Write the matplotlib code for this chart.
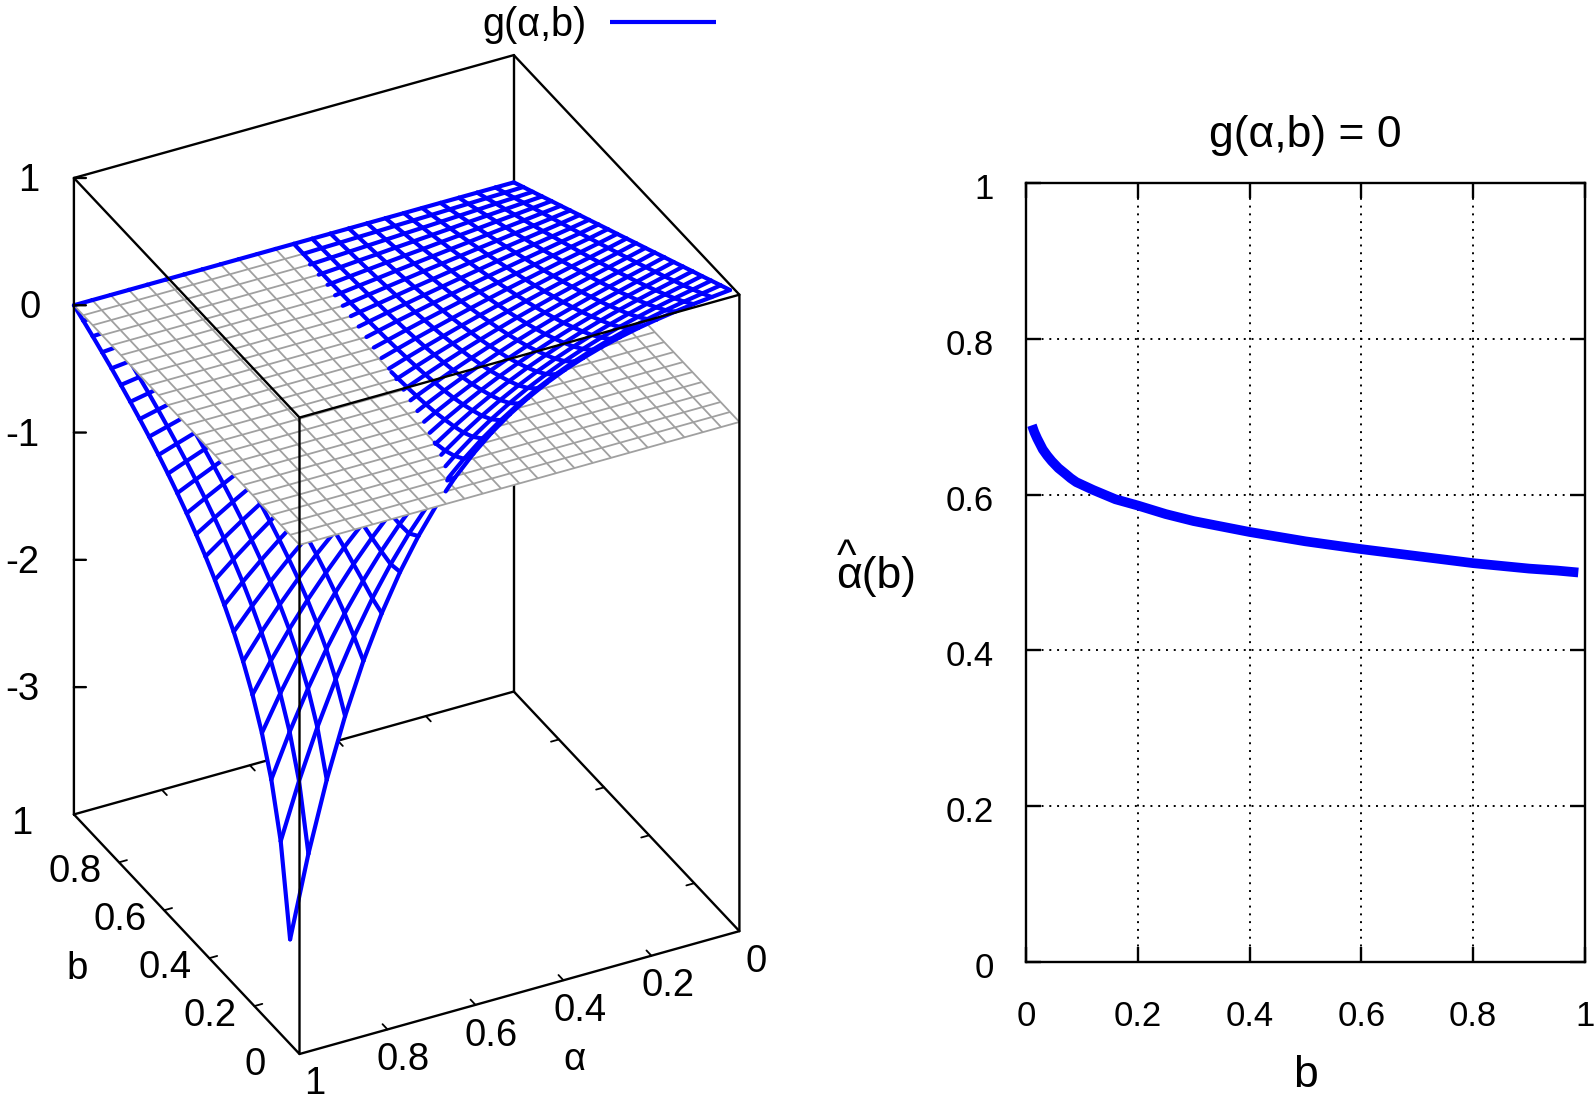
import matplotlib
matplotlib.use('Agg')
import matplotlib.pyplot as plt
from matplotlib.lines import Line2D
from matplotlib.transforms import ScaledTranslation
from mpl_toolkits.mplot3d import proj3d
from mpl_toolkits.mplot3d.art3d import Line3DCollection, Poly3DCollection
import numpy as np

# g(alpha,b) estimated off the wire mesh; rows are b, columns are alpha
alpha_grid = [0.00000,0.04167,0.08333,0.12500,0.16667,0.20833,0.25000,0.29167,0.33333,0.37500,0.41667,0.45833,0.50000,
              0.54167,0.58333,0.62500,0.66667,0.70833,0.75000,0.79167,0.83333,0.87500,0.91667,0.95833,1.00000]
b_grid = [0.04167,0.08333,0.12500,0.16667,0.20833,0.25000,0.29167,0.33333,0.37500,0.41667,0.45833,0.50000,
          0.54167,0.58333,0.62500,0.66667,0.70833,0.75000,0.79167,0.83333,0.87500,0.91667,0.95833,1.00000]
g_table = [
[0.958,0.943,0.928,0.909,0.887,0.861,0.829,0.792,0.747,0.694,0.630,0.555,0.466,0.361,0.236,0.089,-0.085,-0.291,-0.532,-0.817,-1.151,-1.544,-2.004,-2.545,-3.178],
[0.917,0.893,0.869,0.842,0.812,0.777,0.737,0.691,0.639,0.579,0.509,0.430,0.339,0.236,0.117,-0.018,-0.173,-0.349,-0.550,-0.778,-1.038,-1.334,-1.670,-2.052,-2.485],
[0.875,0.846,0.817,0.786,0.751,0.713,0.669,0.620,0.565,0.503,0.434,0.356,0.269,0.171,0.061,-0.062,-0.200,-0.354,-0.527,-0.720,-0.935,-1.176,-1.445,-1.745,-2.079],
[0.833,0.800,0.769,0.735,0.697,0.656,0.611,0.560,0.505,0.444,0.376,0.301,0.218,0.126,0.024,-0.088,-0.212,-0.349,-0.500,-0.666,-0.850,-1.052,-1.275,-1.521,-1.792],
[0.792,0.757,0.723,0.687,0.649,0.607,0.561,0.511,0.456,0.397,0.331,0.260,0.182,0.096,0.002,-0.100,-0.212,-0.334,-0.468,-0.613,-0.773,-0.946,-1.136,-1.343,-1.569],
[0.750,0.713,0.678,0.642,0.602,0.560,0.515,0.465,0.412,0.354,0.292,0.224,0.150,0.071,-0.016,-0.109,-0.210,-0.320,-0.439,-0.567,-0.706,-0.857,-1.020,-1.196,-1.386],
[0.708,0.671,0.635,0.597,0.558,0.516,0.471,0.423,0.371,0.315,0.256,0.192,0.123,0.049,-0.031,-0.116,-0.208,-0.306,-0.412,-0.526,-0.648,-0.779,-0.919,-1.070,-1.232],
[0.667,0.629,0.593,0.556,0.517,0.475,0.432,0.385,0.336,0.283,0.226,0.166,0.102,0.034,-0.039,-0.117,-0.200,-0.289,-0.383,-0.484,-0.592,-0.707,-0.829,-0.959,-1.099],
[0.625,0.587,0.552,0.515,0.477,0.437,0.395,0.350,0.303,0.253,0.200,0.144,0.085,0.022,-0.045,-0.116,-0.191,-0.271,-0.355,-0.445,-0.540,-0.641,-0.748,-0.861,-0.981],
[0.583,0.547,0.512,0.476,0.439,0.401,0.360,0.318,0.273,0.226,0.177,0.125,0.070,0.012,-0.049,-0.113,-0.181,-0.253,-0.328,-0.408,-0.492,-0.580,-0.673,-0.772,-0.875],
[0.542,0.506,0.472,0.438,0.403,0.366,0.328,0.287,0.246,0.202,0.156,0.108,0.057,0.004,-0.051,-0.109,-0.170,-0.234,-0.302,-0.372,-0.446,-0.524,-0.605,-0.691,-0.780],
[0.500,0.466,0.433,0.401,0.367,0.332,0.296,0.259,0.220,0.179,0.136,0.092,0.046,-0.002,-0.052,-0.105,-0.159,-0.216,-0.276,-0.338,-0.403,-0.471,-0.542,-0.616,-0.693],
[0.458,0.426,0.395,0.365,0.333,0.300,0.267,0.232,0.196,0.158,0.119,0.079,0.037,-0.006,-0.051,-0.098,-0.147,-0.198,-0.250,-0.305,-0.362,-0.421,-0.483,-0.547,-0.613],
[0.417,0.386,0.358,0.329,0.299,0.269,0.238,0.206,0.173,0.139,0.104,0.067,0.029,-0.009,-0.050,-0.091,-0.135,-0.179,-0.225,-0.273,-0.323,-0.374,-0.427,-0.482,-0.539],
[0.375,0.347,0.321,0.294,0.267,0.239,0.211,0.182,0.152,0.121,0.089,0.057,0.023,-0.012,-0.047,-0.084,-0.122,-0.161,-0.201,-0.243,-0.285,-0.329,-0.375,-0.422,-0.470],
[0.333,0.308,0.284,0.260,0.235,0.210,0.184,0.158,0.131,0.104,0.076,0.047,0.017,-0.013,-0.044,-0.076,-0.109,-0.143,-0.177,-0.213,-0.249,-0.287,-0.325,-0.365,-0.405],
[0.292,0.269,0.247,0.226,0.204,0.181,0.159,0.136,0.112,0.088,0.063,0.038,0.013,-0.014,-0.040,-0.068,-0.096,-0.125,-0.154,-0.184,-0.215,-0.246,-0.278,-0.311,-0.345],
[0.250,0.230,0.211,0.192,0.173,0.154,0.134,0.114,0.094,0.073,0.052,0.031,0.009,-0.013,-0.036,-0.059,-0.083,-0.107,-0.131,-0.156,-0.181,-0.207,-0.233,-0.260,-0.288],
[0.208,0.192,0.175,0.159,0.143,0.126,0.110,0.093,0.076,0.059,0.041,0.024,0.006,-0.013,-0.031,-0.050,-0.069,-0.089,-0.108,-0.128,-0.149,-0.170,-0.191,-0.212,-0.234],
[0.167,0.153,0.140,0.127,0.113,0.100,0.087,0.073,0.060,0.046,0.032,0.018,0.003,-0.011,-0.026,-0.041,-0.056,-0.071,-0.086,-0.102,-0.117,-0.133,-0.149,-0.166,-0.182],
[0.125,0.115,0.105,0.095,0.085,0.074,0.064,0.054,0.044,0.033,0.023,0.012,0.002,-0.009,-0.020,-0.031,-0.042,-0.053,-0.064,-0.075,-0.087,-0.098,-0.110,-0.122,-0.134],
[0.083,0.076,0.070,0.063,0.056,0.049,0.042,0.036,0.029,0.022,0.015,0.008,0.001,-0.006,-0.014,-0.021,-0.028,-0.035,-0.042,-0.050,-0.057,-0.064,-0.072,-0.079,-0.087],
[0.042,0.038,0.035,0.031,0.028,0.024,0.021,0.018,0.014,0.011,0.007,0.004,0.000,-0.003,-0.007,-0.010,-0.014,-0.017,-0.021,-0.025,-0.028,-0.032,-0.035,-0.039,-0.043],
[0,0,0,0,0,0,0,0,0,0,0,0,0,0,0,0,0,0,0,0,0,0,0,0,0],
]
# grey plane g = 0
plane_alpha = alpha_grid
plane_b = [0.00] + b_grid

# right panel, zero contour
b_hat = [0.0106,0.015,0.02,0.025,0.03,0.038,0.046,0.058,0.07,0.08,0.09,0.105,0.12,0.14,0.16,0.18,0.2,0.25,0.3,
         0.35,0.4,0.45,0.5,0.55,0.6,0.65,0.7,0.75,0.8,0.85,0.9,0.95,0.988]
alpha_hat = [0.689,0.680,0.672,0.665,0.658,0.650,0.643,0.634,0.627,0.621,0.616,0.611,0.606,0.600,0.594,0.590,0.586,0.575,0.566,
             0.559,0.552,0.546,0.540,0.535,0.530,0.5255,0.521,0.5165,0.512,0.5085,0.505,0.5025,0.500]

z_ticks = [1, 0, -1, -2, -3]
ab_ticks = [0.2, 0.4, 0.6, 0.8]
W, H = 1594, 1107
BLUE = '#0000ff'
GREY = '#a0a0a0'
plt.rcParams['font.family'] = ['Liberation Sans', 'DejaVu Sans']

fig = plt.figure(figsize=(W/100, H/100), dpi=100)


def px(x, y):
    return x/W, 1-y/H


def clip_poly(poly, upper):
    # cut a polygon at z = 0, keep the part above or below
    out = []
    for i in range(len(poly)):
        p, q = poly[i], poly[(i+1) % len(poly)]
        pin = p[2] >= 0 if upper else p[2] < 0
        qin = q[2] >= 0 if upper else q[2] < 0
        if pin:
            out.append(p)
        if pin != qin:
            t = p[2]/(p[2]-q[2])
            out.append((p[0]+t*(q[0]-p[0]), p[1]+t*(q[1]-p[1]), 0.0))
    return out


g = np.array(g_table)
upper_segs, lower_segs, upper_polys, lower_polys = [], [], [], []
na, nb = len(alpha_grid), len(b_grid)
for j in range(nb):
    for i in range(na):
        p = (alpha_grid[i], b_grid[j], g[j, i])
        nbrs = []
        if i+1 < na:
            nbrs.append((alpha_grid[i+1], b_grid[j], g[j, i+1]))
        if j+1 < nb:
            nbrs.append((alpha_grid[i], b_grid[j+1], g[j+1, i]))
        for q in nbrs:
            if p[2] >= 0 and q[2] >= 0:
                upper_segs.append([p, q])
            elif p[2] < 0 and q[2] < 0:
                lower_segs.append([p, q])
            else:
                t = p[2]/(p[2]-q[2])
                m = (p[0]+t*(q[0]-p[0]), p[1]+t*(q[1]-p[1]), 0.0)
                if p[2] >= 0:
                    upper_segs.append([p, m]); lower_segs.append([m, q])
                else:
                    lower_segs.append([p, m]); upper_segs.append([m, q])
        if i+1 < na and j+1 < nb:
            quad = [p, (alpha_grid[i+1], b_grid[j], g[j, i+1]),
                    (alpha_grid[i+1], b_grid[j+1], g[j+1, i+1]),
                    (alpha_grid[i], b_grid[j+1], g[j+1, i])]
            up, lo = clip_poly(quad, True), clip_poly(quad, False)
            if len(up) > 2:
                upper_polys.append(up)
            if len(lo) > 2:
                lower_polys.append(lo)

##### left panel
S = 1100
ax = fig.add_axes([0, 0, S/W, S/H], projection='3d', proj_type='ortho', computed_zorder=False)
ax.set_xlim(1, 0); ax.set_ylim(0, 1); ax.set_zlim(-4, 1)
ax.view_init(elev=33.0, azim=-117.15)
ASPECT = (1, 1, 1.535)
ax.set_box_aspect(ASPECT)
ax.set_axis_off()
ax.patch.set_alpha(0)


def corner(a, b, z):
    x, y, _ = proj3d.proj_transform(a, b, z, ax.get_proj())
    return x, y


# scale and place the box so the corners land where they are in the picture
xl0, _ = corner(1, 1, -4)
xr0, _ = corner(0, 0, -4)
x2d = ax.viewLim.intervalx
y2d = ax.viewLim.intervaly
zoom = 665.5 / ((xr0-xl0) * S/(x2d[1]-x2d[0]))
ax.set_box_aspect(ASPECT, zoom=zoom)
fx, fy = corner(1, 0, -4)
left = 299.5 - S*(fx-x2d[0])/(x2d[1]-x2d[0])
bottom = (H-1054) - S*(fy-y2d[0])/(y2d[1]-y2d[0])
ax.set_position([left/W, bottom/H, S/W, S/H])


def line3(pts, z=6, lw=1.7):
    pts = np.array(pts)
    ax.plot(pts[:, 0], pts[:, 1], pts[:, 2], color='k', lw=lw, zorder=z, clip_on=False, solid_capstyle='round')


# parts of the box the surface hides
line3([(0, 1, -4), (0, 1, 1)], z=1)
line3([(1, 1, -4), (0, 1, -4)], z=1)
for t in ab_ticks:
    line3([(t, 1, -4), (t, 0.978, -4)], z=1, lw=1.3)
    line3([(0, t, -4), (0.018, t, -4)], z=1, lw=1.3)
line3([(0, 0, -4), (0, 1, -4)], z=1)

lower_fill = Poly3DCollection(lower_polys, facecolors='white', edgecolors='white', linewidths=0.3, zorder=2)
lower_fill.set_clip_on(False)
ax.add_collection3d(lower_fill, autolim=False)
lower_mesh = Line3DCollection(lower_segs, colors=BLUE, linewidths=3.0, zorder=3, capstyle='round')
lower_mesh.set_clip_on(False)
ax.add_collection3d(lower_mesh, autolim=False)

# grey plane
pa, pb = plane_alpha, plane_b
plane_fill = Poly3DCollection([[(pa[0], pb[0], 0), (pa[-1], pb[0], 0), (pa[-1], pb[-1], 0), (pa[0], pb[-1], 0)]],
                              facecolors='white', edgecolors='none', zorder=4)
plane_fill.set_clip_on(False)
ax.add_collection3d(plane_fill, autolim=False)
plane_segs = [[(a, pb[0], 0), (a, pb[-1], 0)] for a in pa] + [[(pa[0], v, 0), (pa[-1], v, 0)] for v in pb]
plane_mesh = Line3DCollection(plane_segs, colors=GREY, linewidths=1.3, zorder=4.1)
plane_mesh.set_clip_on(False)
ax.add_collection3d(plane_mesh, autolim=False)

upper_fill = Poly3DCollection(upper_polys, facecolors='white', edgecolors='white', linewidths=0.3, zorder=5)
upper_fill.set_clip_on(False)
ax.add_collection3d(upper_fill, autolim=False)
upper_mesh = Line3DCollection(upper_segs, colors=BLUE, linewidths=3.0, zorder=5.1, capstyle='round')
upper_mesh.set_clip_on(False)
ax.add_collection3d(upper_mesh, autolim=False)

# front and top of the box
line3([(1, 1, -4), (1, 1, 1), (1, 0, 1), (1, 0, -4), (1, 1, -4)])
line3([(1, 0, -4), (0, 0, -4), (0, 0, 1), (1, 0, 1)])
line3([(1, 1, 1), (0, 1, 1), (0, 0, 1)])
for t in ab_ticks:
    line3([(t, 0, -4), (t, 0.022, -4)], lw=1.3)
    line3([(1, t, -4), (0.982, t, -4)], lw=1.3)
for t in z_ticks:
    line3([(1, 1, t), (0.9784, 0.9889, t)], lw=1.7)

FS3D = 27.5
labels3d = [('1', 29, 181), ('0', 30, 308), ('-1', 22, 436), ('-2', 22, 563), ('-3', 22, 690),
            ('1', 22, 824), ('0.8', 75, 872), ('0.6', 120, 920), ('0.4', 165, 968),
            ('0.2', 210, 1016), ('0', 255, 1065),
            ('1', 315, 1084), ('0.8', 403, 1060), ('0.6', 491, 1036), ('0.4', 580, 1011),
            ('0.2', 668, 986), ('0', 756, 962), ('b', 77, 969), ('α', 574, 1060)]
for s, x, y in labels3d:
    fig.text(*px(x, y), s, fontsize=FS3D, ha='center', va='center')

handle = Line2D([], [], color=BLUE, lw=3.0, solid_capstyle='butt')
fig.legend(handles=[handle], labels=['g(α,b)'], frameon=False, markerfirst=False, fontsize=28.5,
           handlelength=2.68, handletextpad=0.58, loc='center', bbox_to_anchor=px(599, 25))

##### right panel
l, r, t, b = 1026, 1585, 183, 962
ax2 = fig.add_axes([l/W, 1-b/H, (r-l)/W, (b-t)/H])
ax2.plot(b_hat, alpha_hat, color=BLUE, lw=7, solid_capstyle='butt', zorder=3)
ax2.set_xlim(0, 1); ax2.set_ylim(0, 1)
ticks = [0, 0.2, 0.4, 0.6, 0.8, 1]
ax2.set_xticks(ticks, ['0', '0.2', '0.4', '0.6', '0.8', '1'])
ax2.set_yticks(ticks, ['0', '0.2', '0.4', '0.6', '0.8', '1'])
ax2.tick_params(direction='in', length=11, width=1.7, top=True, right=True, labelsize=25)
ax2.tick_params(axis='x', pad=27)
ax2.tick_params(axis='y', pad=23)
for lab in ax2.get_yticklabels():
    lab.set_transform(lab.get_transform() + ScaledTranslation(0, -3/100, fig.dpi_scale_trans))
ax2.grid(True, color='k', linestyle=(0, (1, 3)), linewidth=1.4)
ax2.set_axisbelow(True)
for sp in ax2.spines.values():
    sp.set_linewidth(1.7)
ax2.set_title('g(α,b) = 0', fontsize=32, pad=26)
ax2.set_xlabel('b', fontsize=32, labelpad=16)
fig.text(*px(876, 576), 'α(b)', fontsize=32, ha='center', va='center')
fig.text(*px(847, 558), '^', fontsize=30, ha='center', va='center')

fig.savefig('out.png', dpi=100)
